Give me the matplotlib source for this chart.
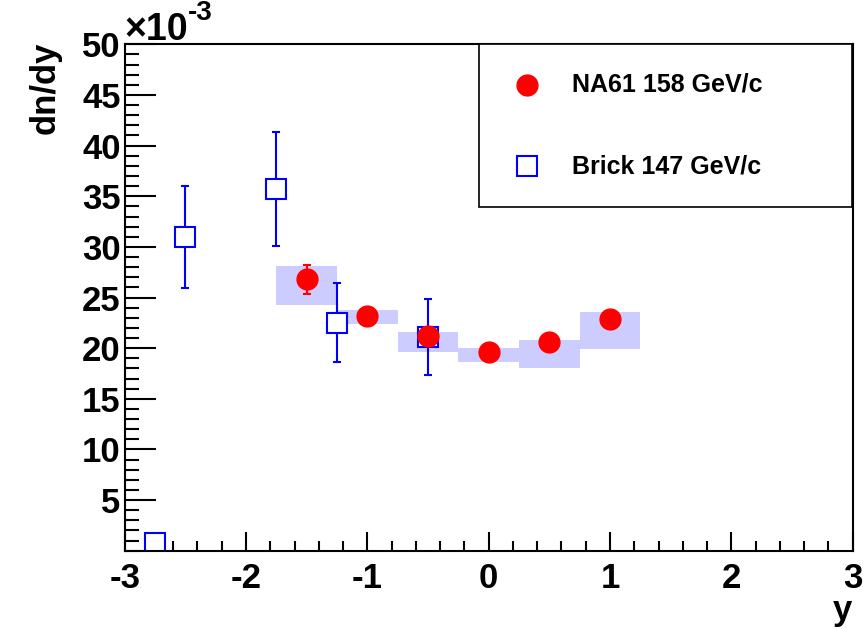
import numpy as np
import matplotlib.pyplot as plt
from matplotlib.patches import Rectangle
from matplotlib.ticker import MultipleLocator

plt.rcParams['font.family'] = ['Liberation Sans', 'DejaVu Sans']
plt.rcParams['font.weight'] = 'bold'
plt.rcParams['axes.unicode_minus'] = False

# values in units of 1e-3
na61_y = [-1.5, -1.0, -0.5, 0.0, 0.5, 1.0]
na61_dndy = [26.8, 23.2, 21.2, 19.6, 20.6, 22.9]
na61_stat = [1.45, 0.3, 0.3, 0.3, 0.3, 0.3]
na61_sys_lo = [24.3, 22.4, 19.6, 18.6, 18.0, 19.9]
na61_sys_hi = [28.1, 23.8, 21.6, 20.0, 20.8, 23.6]
na61_halfwidth = 0.25

brick_y = [-2.75, -2.5, -1.75, -1.25, -0.5]
brick_dndy = [0.8, 31.0, 35.7, 22.5, 21.1]
brick_err = [0.3, 5.05, 5.65, 3.9, 3.75]

fig = plt.figure(figsize=(8.63, 6.29), dpi=100)
ax = fig.add_axes([0.1445, 0.1245, 0.8435, 0.805])

# systematic boxes
for x, lo, hi in zip(na61_y, na61_sys_lo, na61_sys_hi):
    ax.add_patch(Rectangle((x - na61_halfwidth, lo), 2 * na61_halfwidth, hi - lo,
                           facecolor='#ccccff', edgecolor='none', zorder=1))

ax.errorbar(brick_y, brick_dndy, yerr=brick_err, fmt='s', ms=15, mfc='white',
            mec='blue', mew=1.5, ecolor='blue', elinewidth=1.5, capsize=3,
            capthick=1.5, color='blue', zorder=2)
ax.errorbar(na61_y, na61_dndy, yerr=na61_stat, fmt='o', ms=15, mfc='red',
            mec='red', ecolor='red', elinewidth=1.5, capsize=3, capthick=1.5,
            zorder=3)

ax.set_xlim(-3, 3)
ax.set_ylim(0, 50)
ax.xaxis.set_major_locator(MultipleLocator(1))
ax.xaxis.set_minor_locator(MultipleLocator(0.2))
ax.set_yticks([5, 10, 15, 20, 25, 30, 35, 40, 45, 50])
ax.yaxis.set_minor_locator(MultipleLocator(1))
ax.tick_params(which='both', direction='in', top=False, right=False, width=1.5,
               labelsize=25)
ax.tick_params(axis='x', which='major', length=14, pad=8)
ax.tick_params(axis='x', which='minor', length=7)
ax.tick_params(axis='y', which='major', length=22, pad=3)
ax.tick_params(axis='y', which='minor', length=10)
for lab in ax.get_xticklabels() + ax.get_yticklabels():
    lab.set_fontweight('bold')
for s in ax.spines.values():
    s.set_linewidth(1.5)

fig.text(124 / 863, 1 - 40 / 629, '\u00d710', fontsize=27, fontweight='bold',
         ha='left', va='baseline')
fig.text(188 / 863, 1 - 20 / 629, '-3', fontsize=20, fontweight='bold',
         ha='left', va='baseline')
fig.text(45 / 863, 1 - 88 / 629, 'dn/dy', fontsize=25, fontweight='bold',
         rotation=90, ha='center', va='center')
fig.text(842 / 863, 1 - 620 / 629, 'y', fontsize=25, fontweight='bold',
         ha='center', va='baseline')

# legend box
lx0, ly0 = (479 / 863), 1 - 207 / 629
lw, lh = (852 - 479) / 863, (207 - 44) / 629
fig.patches.append(Rectangle((lx0, ly0), lw, lh, transform=fig.transFigure,
                             facecolor='white', edgecolor='black', lw=1.2,
                             zorder=5))
fig.lines.append(plt.Line2D([527 / 863], [1 - 85 / 629], marker='o', ms=15,
                            color='red', transform=fig.transFigure, zorder=6))
fig.lines.append(plt.Line2D([527 / 863], [1 - 166 / 629], marker='s', ms=15,
                            mfc='white', mec='blue', mew=1.5,
                            transform=fig.transFigure, zorder=6))
fig.text(572 / 863, 1 - 85 / 629, 'NA61 158 GeV/c', fontsize=18,
         fontweight='bold', va='center', ha='left', zorder=6)
fig.text(572 / 863, 1 - 166 / 629, 'Brick 147 GeV/c', fontsize=18,
         fontweight='bold', va='center', ha='left', zorder=6)

fig.savefig('out.png', dpi=100)
